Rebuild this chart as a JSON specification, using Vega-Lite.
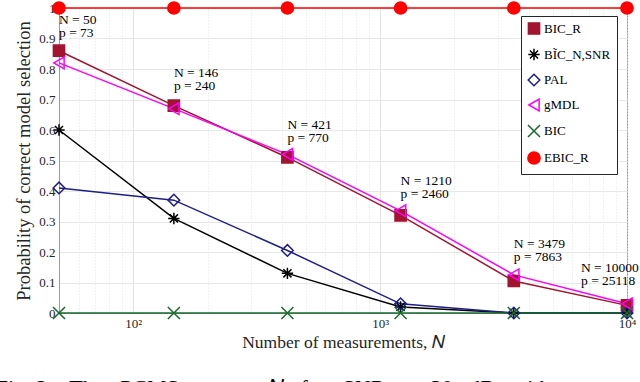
{
  "$schema": "https://vega.github.io/schema/vega-lite/v6.json",
  "width": 568,
  "height": 305,
  "autosize": {"type": "none"},
  "padding": {"left": 59, "top": 8, "right": 13, "bottom": 69},
  "background": "white",
  "config": {
    "view": {"stroke": "#9a9a9a", "strokeWidth": 1},
    "font": "Liberation Serif",
    "axis": {"labelOverlap": false, "labelSeparation": 0}
  },
  "title": {
    "text": "Fig. 2:\u2002 The\u2002 PCMS\u2002 versus\u2002 𝑁\u2002 for\u2002 SNR\u2002 =\u2002 30\u2002 dB\u2002 with\u2002 ν",
    "orient": "bottom",
    "anchor": "start",
    "dx": -19,
    "offset": 27,
    "baseline": "top",
    "font": "Liberation Serif",
    "fontSize": 22,
    "fontWeight": "normal",
    "color": "#000000"
  },
  "datasets": {
    "series": [
      {"N": 50, "method": "BIC_R", "value": 0.86},
      {"N": 146, "method": "BIC_R", "value": 0.68},
      {"N": 421, "method": "BIC_R", "value": 0.51},
      {"N": 1210, "method": "BIC_R", "value": 0.32},
      {"N": 3479, "method": "BIC_R", "value": 0.105},
      {"N": 10000, "method": "BIC_R", "value": 0.025},
      {"N": 50, "method": "BĨC_N,SNR", "value": 0.6},
      {"N": 146, "method": "BĨC_N,SNR", "value": 0.31},
      {"N": 421, "method": "BĨC_N,SNR", "value": 0.13},
      {"N": 1210, "method": "BĨC_N,SNR", "value": 0.02},
      {"N": 3479, "method": "BĨC_N,SNR", "value": 0.0},
      {"N": 10000, "method": "BĨC_N,SNR", "value": 0.0},
      {"N": 50, "method": "PAL", "value": 0.41},
      {"N": 146, "method": "PAL", "value": 0.37},
      {"N": 421, "method": "PAL", "value": 0.205},
      {"N": 1210, "method": "PAL", "value": 0.03},
      {"N": 3479, "method": "PAL", "value": 0.0},
      {"N": 10000, "method": "PAL", "value": 0.0},
      {"N": 50, "method": "gMDL", "value": 0.82},
      {"N": 146, "method": "gMDL", "value": 0.67},
      {"N": 421, "method": "gMDL", "value": 0.52},
      {"N": 1210, "method": "gMDL", "value": 0.335},
      {"N": 3479, "method": "gMDL", "value": 0.125},
      {"N": 10000, "method": "gMDL", "value": 0.03},
      {"N": 50, "method": "BIC", "value": 0.0},
      {"N": 146, "method": "BIC", "value": 0.0},
      {"N": 421, "method": "BIC", "value": 0.0},
      {"N": 1210, "method": "BIC", "value": 0.0},
      {"N": 3479, "method": "BIC", "value": 0.0},
      {"N": 10000, "method": "BIC", "value": 0.0},
      {"N": 50, "method": "EBIC_R", "value": 1.0},
      {"N": 146, "method": "EBIC_R", "value": 1.0},
      {"N": 421, "method": "EBIC_R", "value": 1.0},
      {"N": 1210, "method": "EBIC_R", "value": 1.0},
      {"N": 3479, "method": "EBIC_R", "value": 1.0},
      {"N": 10000, "method": "EBIC_R", "value": 1.0}
    ],
    "labels": [
      {"N": 50, "value": 0.9475, "t": "N = 50\np = 73"},
      {"N": 146, "value": 0.774, "t": "N = 146\np = 240"},
      {"N": 421, "value": 0.603, "t": "N = 421\np = 770"},
      {"N": 1210, "value": 0.42, "t": "N = 1210\np = 2460"},
      {"N": 3479, "value": 0.213, "t": "N = 3479\np = 7863"},
      {"N": 10000, "value": 0.134, "t": "N = 10000\np = 25118"}
    ]
  },
  "encoding": {
    "x": {
      "field": "N",
      "type": "quantitative",
      "scale": {"type": "log", "domain": [50, 10000], "nice": false},
      "axis": {
        "values": [50, 60, 70, 80, 90, 100, 200, 300, 400, 500, 600, 700, 800, 900, 1000, 2000, 3000, 4000, 5000, 6000, 7000, 8000, 9000, 10000],
        "labelExpr": "datum.value == 100 ? '10²' : datum.value == 1000 ? '10³' : datum.value == 10000 ? '10⁴' : ''",
        "labelFont": "Liberation Serif",
        "labelFontSize": 13,
        "labelColor": "#262626",
        "labelFlush": false,
        "labelOverlap": false,
        "labelBound": false,
        "labelPadding": 4,
        "ticks": false,
        "grid": true,
        "gridColor": "#e3e3e3",
        "gridDash": {"condition": {"test": "datum.value == 100 || datum.value == 1000", "value": []}, "value": [1, 2]},
        "domainColor": "#9a9a9a",
        "title": "Number of measurements, 𝑁",
        "titleFont": "Liberation Serif",
        "titleFontSize": 17.5,
        "titleFontWeight": "normal",
        "titleColor": "#262626",
        "titlePadding": 3
      }
    },
    "y": {
      "field": "value",
      "type": "quantitative",
      "scale": {"domain": [0, 1], "nice": false},
      "axis": {
        "tickCount": 10,
        "labelExpr": "format(datum.value, '~g')",
        "labelFont": "Liberation Serif",
        "labelFontSize": 13,
        "labelColor": "#262626",
        "labelPadding": 4,
        "labelOverlap": false,
        "labelSeparation": 0,
        "labelBound": false,
        "labelFlush": false,
        "ticks": false,
        "grid": true,
        "gridColor": "#e8e8e8",
        "domainColor": "#9a9a9a",
        "title": "Probability of correct model selection",
        "titleFont": "Liberation Serif",
        "titleFontSize": 18.5,
        "titleFontWeight": "normal",
        "titleColor": "#262626",
        "titlePadding": 5
      }
    }
  },
  "layer": [
    {
      "data": {"name": "series"},
      "mark": {"type": "line", "strokeWidth": 1.5, "clip": false},
      "encoding": {
        "color": {
          "field": "method",
          "type": "nominal",
          "title": null,
          "scale": {
            "domain": ["BIC_R", "BĨC_N,SNR", "PAL", "gMDL", "BIC", "EBIC_R"],
            "range": ["#A2142F", "#000000", "#1E1E8A", "#FF00FF", "#176B2B", "#FF0000"]
          },
          "legend": {
            "orient": "none",
            "legendX": 462,
            "legendY": 8,
            "padding": 6,
            "strokeColor": "#262626",
            "fillColor": "white",
            "labelFont": "Liberation Serif",
            "labelFontSize": 13,
            "labelColor": "#000000",
            "labelLimit": 200,
            "labelOffset": 3,
            "rowPadding": 7,
            "symbolStrokeWidth": 1.5,
            "cornerRadius": 0
          }
        }
      }
    },
    {
      "data": {"name": "series"},
      "mark": {"type": "point", "strokeWidth": 1.5, "opacity": 1, "filled": false, "clip": false},
      "encoding": {
        "color": {"field": "method", "type": "nominal", "title": null},
        "fill": {
          "field": "method",
          "type": "nominal",
          "title": null,
          "scale": {
            "domain": ["BIC_R", "BĨC_N,SNR", "PAL", "gMDL", "BIC", "EBIC_R"],
            "range": ["#A2142F", "#000000", "transparent", "transparent", "transparent", "#FF0000"]
          }
        },
        "shape": {
          "field": "method",
          "type": "nominal",
          "title": null,
          "scale": {
            "domain": ["BIC_R", "BĨC_N,SNR", "PAL", "gMDL", "BIC", "EBIC_R"],
            "range": ["square", "M-1,0L1,0M0,-1L0,1M-0.71,-0.71L0.71,0.71M-0.71,0.71L0.71,-0.71", "diamond", "triangle-left", "M-1,-1L1,1M-1,1L1,-1", "circle"]
          }
        },
        "size": {
          "field": "method",
          "type": "nominal",
          "title": null,
          "scale": {
            "domain": ["BIC_R", "BĨC_N,SNR", "PAL", "gMDL", "BIC", "EBIC_R"],
            "range": [125, 150, 190, 170, 90, 160]
          }
        }
      }
    },
    {
      "data": {"name": "labels"},
      "transform": [{"filter": "datum.N < 10000"}],
      "mark": {"type": "text", "align": "left", "baseline": "alphabetic", "lineBreak": "\n", "lineHeight": 13, "font": "Liberation Serif", "fontSize": 13.5, "color": "#000000", "dx": 0},
      "encoding": {
        "text": {"field": "t", "type": "nominal"}
      }
    },
    {
      "data": {"name": "labels"},
      "transform": [{"filter": "datum.N >= 10000"}],
      "mark": {"type": "text", "align": "left", "baseline": "alphabetic", "lineBreak": "\n", "lineHeight": 13, "font": "Liberation Serif", "fontSize": 13.5, "color": "#000000", "dx": -46},
      "encoding": {
        "text": {"field": "t", "type": "nominal"}
      }
    }
  ]
}
